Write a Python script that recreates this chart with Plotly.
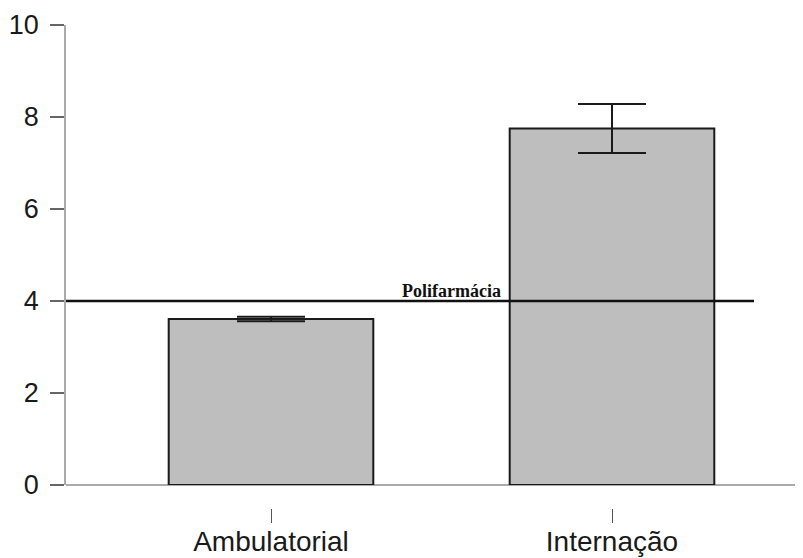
import plotly.graph_objects as go

categories = ["Ambulatorial", "Internação"]
means = [3.61, 7.75]
errors = [0.05, 0.53]
threshold = 4
threshold_label = "Polifarmácia"
y_ticks = [0, 2, 4, 6, 8, 10]

W, H = 803, 558
OFF = 8  # page body margin
L, R, T, B = 66 - OFF, OFF, 25 - OFF, 558 - (508 - OFF)
plot_w = W - L - R
plot_h = H - T - B
y0_px = 485 - OFF
ydom0 = ((H - B) - y0_px) / plot_h

fig = go.Figure()
fig.add_trace(go.Bar(
    x=categories, y=means, width=0.6,
    marker=dict(color="#bebebe", line=dict(color="#1a1a1a", width=2)),
    error_y=dict(type="data", array=errors, visible=True, color="#1a1a1a", thickness=2, width=34),
    showlegend=False,
))

fig.add_shape(type="line", xref="paper", yref="y", x0=0, x1=(754 - 66) / plot_w,
              y0=threshold, y1=threshold, line=dict(color="#111111", width=2.5))

fig.add_annotation(x=(503 - 66) / plot_w, xref="paper", y=threshold, yref="y",
                   text="<b>" + threshold_label + "</b>", showarrow=False,
                   xanchor="right", yanchor="bottom", yshift=-2,
                   font=dict(family="Liberation Serif, Times New Roman, serif", size=18, color="#111111"))

fig.update_layout(
    width=W, height=H,
    margin=dict(l=L, r=R, t=T, b=B, pad=0, autoexpand=False),
    plot_bgcolor="white", paper_bgcolor="white",
    font=dict(family="Liberation Sans, Arial, sans-serif", color="#1a1a1a"),
    bargap=0.4,
    xaxis=dict(
        anchor="free", position=0, automargin=False,
        range=[-(271 - 66) / 341, 1 + (803 - 612) / 341],
        showline=False, showgrid=False, zeroline=False,
        ticks="outside", ticklen=14, tickcolor="#555555", tickwidth=1,
        tickfont=dict(size=28, color="#1a1a1a"),
        ticklabelstandoff=-6,
    ),
    yaxis=dict(
        domain=[ydom0, 1], automargin=False,
        range=[0, 10], tickvals=y_ticks,
        showgrid=False, zeroline=True, zerolinecolor="#aaaaaa", zerolinewidth=1.5,
        showline=True, linecolor="#aaaaaa", linewidth=1.5,
        ticks="outside", ticklen=14, tickcolor="#666666", tickwidth=1.5,
        tickfont=dict(size=27, color="#1a1a1a"),
        ticklabelstandoff=6,
    ),
)

fig.write_html("out.html")
